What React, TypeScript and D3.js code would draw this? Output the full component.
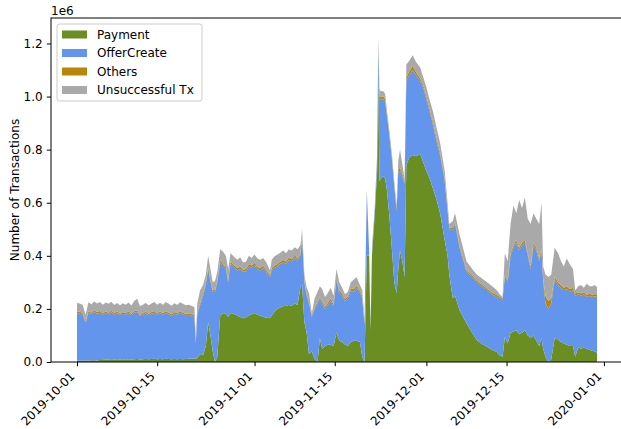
import React from 'react';
import * as d3 from 'd3';

// time of each sample, in days after 2019-10-01 00:00 UTC
const days = [
  0, 0.5, 1, 1.5, 2, 2.5, 3, 3.5, 4, 4.5, 5, 5.5, 6, 6.5, 7, 7.5, 8, 8.5, 9, 9.5,
  10, 10.5, 11, 11.5, 12, 12.5, 13, 13.5, 14, 14.5, 15, 15.5, 16, 16.5, 17, 17.5, 18, 18.5, 19, 19.5,
  20, 20.5, 20.75, 21, 21.5, 22, 22.5, 22.9, 23.3, 23.7, 24.1, 24.5, 25, 25.5, 26, 26.4, 26.8, 27.5, 28, 28.5,
  29, 29.5, 30, 30.5, 31, 31.5, 32, 32.5, 33, 33.7, 34, 34.5, 35, 35.5, 36, 36.5, 37, 37.5, 38, 38.5,
  39, 39.3, 39.7, 40.1, 40.5, 41, 41.5, 42, 42.4, 42.8, 43.3, 43.8, 44.3, 44.8, 45.3, 45.8, 46.3, 46.8, 47.3, 47.8,
  48.3, 48.8, 49.4, 49.8, 50.2, 50.6, 51, 51.25, 51.5, 52, 52.4, 52.6, 52.8, 53, 53.5, 53.8, 54.1, 54.5, 55, 55.4, 55.8,
  56.1, 56.4, 56.8, 57.2, 57.5, 58, 58.6, 59.2, 59.9, 60.5, 61, 61.6, 62.2, 62.8, 63.4, 64.2, 64.7, 65, 65.6, 66,
  66.8, 68, 69, 69.8, 70.7, 71.6, 72.5, 73.3, 73.8, 74.3, 74.7, 75.2, 75.7, 76.2, 76.7, 77.2, 77.7, 78.2, 78.7, 79.2,
  79.7, 80.2, 80.7, 81.1, 81.4, 81.8, 82.3, 82.8, 83.4, 84, 84.5, 85, 85.5, 86, 86.6, 87, 87.5, 88, 88.5, 89,
  89.5, 90, 90.4, 90.8
];

// thousands of transactions
const payment = [
  5, 5, 6, 6, 6, 7, 7, 6, 8, 8, 9, 9, 10, 9, 10, 9, 10, 8, 10, 9,
  10, 11, 9, 10, 11, 10, 11, 12, 10, 11, 10, 12, 11, 10, 11, 10, 11, 10, 11, 12,
  12, 12, 12, 15, 30, 25, 60, 150, 100, 40, 0, 20, 175, 185, 180, 170, 185, 180, 175, 170,
  165, 168, 175, 180, 185, 178, 175, 170, 168, 165, 175, 190, 200, 205, 210, 212, 215, 212, 220, 215,
  280, 290, 150, 110, 30, 40, 10, 0, 90, 50, 60, 65, 65, 60, 110, 80, 75, 65, 60, 75,
  80, 80, 75, 20, 0, 400, 400, 120, 400, 560, 720, 1100, 680, 690, 700, 690, 650, 560, 420, 300, 260,
  350, 420, 380, 320, 740, 770, 780, 775, 785, 750, 720, 690, 650, 610, 560, 460, 400, 330, 240, 250,
  195, 146, 110, 83, 68, 57, 45, 38, 25, 20, 94, 70, 110, 115, 120, 105, 110, 120, 100, 90,
  100, 80, 60, 90, 50, 20, 0, 10, 90, 85, 75, 70, 65, 60, 60, 20, 55, 50, 55, 50,
  45, 42, 40, 35
];

const offerCreate = [
  180, 178, 172, 142, 180, 173, 181, 176, 178, 170, 176, 171, 177, 169, 174, 167, 172, 170, 175, 167,
  176, 177, 163, 168, 173, 166, 171, 174, 168, 173, 168, 173, 169, 164, 171, 168, 175, 170, 165, 166,
  163, 158, 58, 165, 185, 225, 230, 200, 200, 225, 265, 280, 200, 175, 170, 130, 185, 175, 170, 180,
  175, 174, 185, 175, 180, 172, 170, 185, 172, 155, 170, 165, 160, 165, 165, 158, 170, 166, 175, 165,
  120, 180, 150, 140, 190, 130, 190, 220, 150, 170, 140, 150, 165, 150, 200, 180, 175, 165, 180, 195,
  185, 200, 185, 220, 140, 240, 20, 10, 20, 20, 40, 90, 320, 300, 290, 290, 280, 300, 340, 360, 310,
  370, 300, 320, 350, 320, 310, 320, 305, 275, 280, 270, 250, 240, 220, 220, 220, 170, 170, 260, 270,
  235, 194, 210, 217, 217, 213, 210, 207, 215, 215, 226, 230, 290, 315, 330, 315, 330, 330, 300, 260,
  340, 340, 320, 330, 250, 200, 200, 210, 220, 205, 205, 200, 210, 205, 210, 230, 200, 200, 200, 195,
  205, 203, 208, 210
];

const others = [
  6, 6, 6, 5, 6, 6, 6, 6, 6, 6, 6, 6, 6, 6, 6, 6, 6, 6, 6, 6,
  6, 7, 6, 6, 6, 6, 6, 6, 6, 6, 6, 6, 6, 6, 6, 6, 6, 6, 6, 6,
  6, 6, 4, 6, 7, 7, 8, 8, 8, 7, 7, 8, 9, 9, 8, 8, 9, 9, 9, 9,
  8, 8, 9, 9, 9, 9, 9, 9, 8, 8, 9, 9, 9, 9, 9, 9, 9, 9, 9, 9,
  9, 9, 7, 6, 6, 5, 6, 7, 7, 10, 8, 8, 10, 8, 8, 8, 8, 8, 8, 9,
  9, 9, 8, 8, 5, 5, 5, 3, 5, 5, 8, 10, 10, 10, 10, 10, 8, 8, 8, 8, 8,
  10, 10, 10, 8, 12, 14, 15, 12, 10, 10, 10, 10, 10, 10, 10, 10, 8, 6, 8, 8,
  8, 7, 7, 7, 7, 7, 7, 7, 6, 5, 8, 8, 10, 10, 10, 10, 10, 10, 10, 10,
  10, 10, 10, 10, 10, 30, 30, 20, 10, 10, 10, 10, 10, 10, 10, 8, 8, 8, 8, 8,
  8, 8, 8, 8
];

const unsuccessful = [
  31, 31, 31, 25, 33, 32, 34, 32, 34, 32, 33, 33, 34, 31, 32, 32, 33, 32, 33, 31,
  38, 43, 32, 32, 32, 32, 32, 34, 32, 33, 32, 35, 33, 32, 33, 32, 33, 33, 32, 32,
  31, 30, 16, 34, 48, 33, 32, 42, 42, 28, 33, 32, 41, 46, 42, 42, 31, 31, 31, 36,
  27, 28, 31, 28, 31, 31, 31, 28, 30, 17, 31, 34, 36, 33, 36, 31, 31, 33, 28, 36,
  31, 21, 23, 24, 34, 10, 34, 38, 38, 45, 37, 37, 40, 32, 32, 32, 22, 17, 17, 21,
  36, 31, 22, 22, 15, 5, 5, 2, 5, 5, 12, 25, 20, 20, 20, 20, 12, 12, 12, 12, 12,
  30, 70, 35, 12, 48, 41, 41, 38, 40, 30, 35, 35, 40, 40, 35, 30, 22, 14, 22, 32,
  42, 33, 23, 23, 23, 23, 23, 18, 9, 5, 82, 72, 110, 150, 100, 180, 130, 160, 130, 160,
  110, 110, 130, 170, 50, 80, 90, 90, 110, 110, 90, 80, 105, 95, 70, 12, 22, 32, 17, 42,
  27, 32, 34, 29
];

const seriesNames = ['Payment', 'OfferCreate', 'Others', 'Unsuccessful Tx'];
const seriesColors = ['#6b8e23', '#6495ed', '#b8860b', '#a9a9a9'];
const tickDates = ['2019-10-01', '2019-10-15', '2019-11-01', '2019-11-15', '2019-12-01', '2019-12-15', '2020-01-01'];
const yTicks = [0, 0.2, 0.4, 0.6, 0.8, 1.0, 1.2];

const DAY = 864e5;
const start = Date.UTC(2019, 9, 1);

class StackChart extends React.Component {
  myRef = React.createRef<HTMLDivElement>();

  componentDidMount() {
    document.body.style.margin = '0';
    this.draw();
  }

  draw() {
    const W = 621, H = 429;
    const left = 51, right = 623, top = 18, bottom = 362;
    const fs = 12;

    const root = d3.select(this.myRef.current);
    root.selectAll('*').remove();
    const svg = root.append('svg')
      .attr('width', W)
      .attr('height', H)
      .style('display', 'block')
      .style('font-family', 'DejaVu Sans, sans-serif');

    const x = d3.scaleUtc()
      .domain([new Date(start - 4.54 * DAY), new Date(start + 95.33 * DAY)])
      .range([left, right]);
    const y = d3.scaleLinear().domain([0, 1.296e6]).range([bottom, top]);

    const table = days.map((d, i) => ({
      date: new Date(start + d * DAY),
      'Payment': payment[i] * 1000,
      'OfferCreate': offerCreate[i] * 1000,
      'Others': others[i] * 1000,
      'Unsuccessful Tx': unsuccessful[i] * 1000
    }));
    const layers = d3.stack().keys(seriesNames)(table);
    const area = d3.area()
      .x((d: any) => x(d.data.date))
      .y0((d: any) => y(d[0]))
      .y1((d: any) => y(d[1]));

    svg.append('g')
      .selectAll('path')
      .data(layers)
      .join('path')
      .attr('fill', (d, i) => seriesColors[i])
      .attr('d', area as any);

    // x axis
    const xAxis = svg.append('g')
      .attr('transform', `translate(0,${bottom})`)
      .call(d3.axisBottom(x)
        .tickValues(tickDates.map(t => new Date(t + 'T00:00:00Z')))
        .tickFormat(d3.utcFormat('%Y-%m-%d'))
        .tickSize(4.2));
    xAxis.select('.domain').remove();
    xAxis.selectAll('line').attr('stroke', '#000').attr('stroke-width', 1);
    xAxis.selectAll('text')
      .attr('font-size', fs)
      .attr('font-family', 'DejaVu Sans, sans-serif')
      .attr('fill', '#000')
      .attr('text-anchor', 'end')
      .attr('y', null)
      .attr('dy', null)
      .attr('transform', 'translate(-2,15) rotate(-45)');

    // y axis
    const yAxis = svg.append('g')
      .attr('transform', `translate(${left},0)`)
      .call(d3.axisLeft(y)
        .tickValues(yTicks.map(v => v * 1e6))
        .tickFormat(v => (v / 1e6).toFixed(1))
        .tickSize(4.2)
        .tickPadding(4.2));
    yAxis.select('.domain').remove();
    yAxis.selectAll('line').attr('stroke', '#000').attr('stroke-width', 1);
    yAxis.selectAll('text')
      .attr('font-size', fs)
      .attr('font-family', 'DejaVu Sans, sans-serif')
      .attr('fill', '#000');

    // spines
    svg.append('rect')
      .attr('x', left)
      .attr('y', top)
      .attr('width', right - left)
      .attr('height', bottom - top)
      .attr('fill', 'none')
      .attr('stroke', '#000')
      .attr('stroke-width', 1);

    svg.append('text')
      .attr('x', left)
      .attr('y', 15)
      .attr('font-size', fs)
      .text('1e6');

    svg.append('text')
      .attr('transform', `translate(19,${(top + bottom) / 2}) rotate(-90)`)
      .attr('text-anchor', 'middle')
      .attr('font-size', fs)
      .text('Number of Transactions');

    // legend
    const lg = svg.append('g');
    lg.append('rect')
      .attr('x', 57)
      .attr('y', 24)
      .attr('width', 145)
      .attr('height', 77)
      .attr('rx', 2.5)
      .attr('fill', '#fff')
      .attr('fill-opacity', 0.8)
      .attr('stroke', '#cccccc')
      .attr('stroke-width', 1);
    seriesNames.forEach((name, i) => {
      const cy = 34.5 + i * 18.5;
      lg.append('rect')
        .attr('x', 62)
        .attr('y', cy - 4)
        .attr('width', 25)
        .attr('height', 8)
        .attr('fill', seriesColors[i]);
      lg.append('text')
        .attr('x', 97)
        .attr('y', cy + 4.3)
        .attr('font-size', fs)
        .text(name);
    });
  }

  render() {
    return <div ref={this.myRef}></div>;
  }
}

export default function App() {
  return <StackChart />;
}
